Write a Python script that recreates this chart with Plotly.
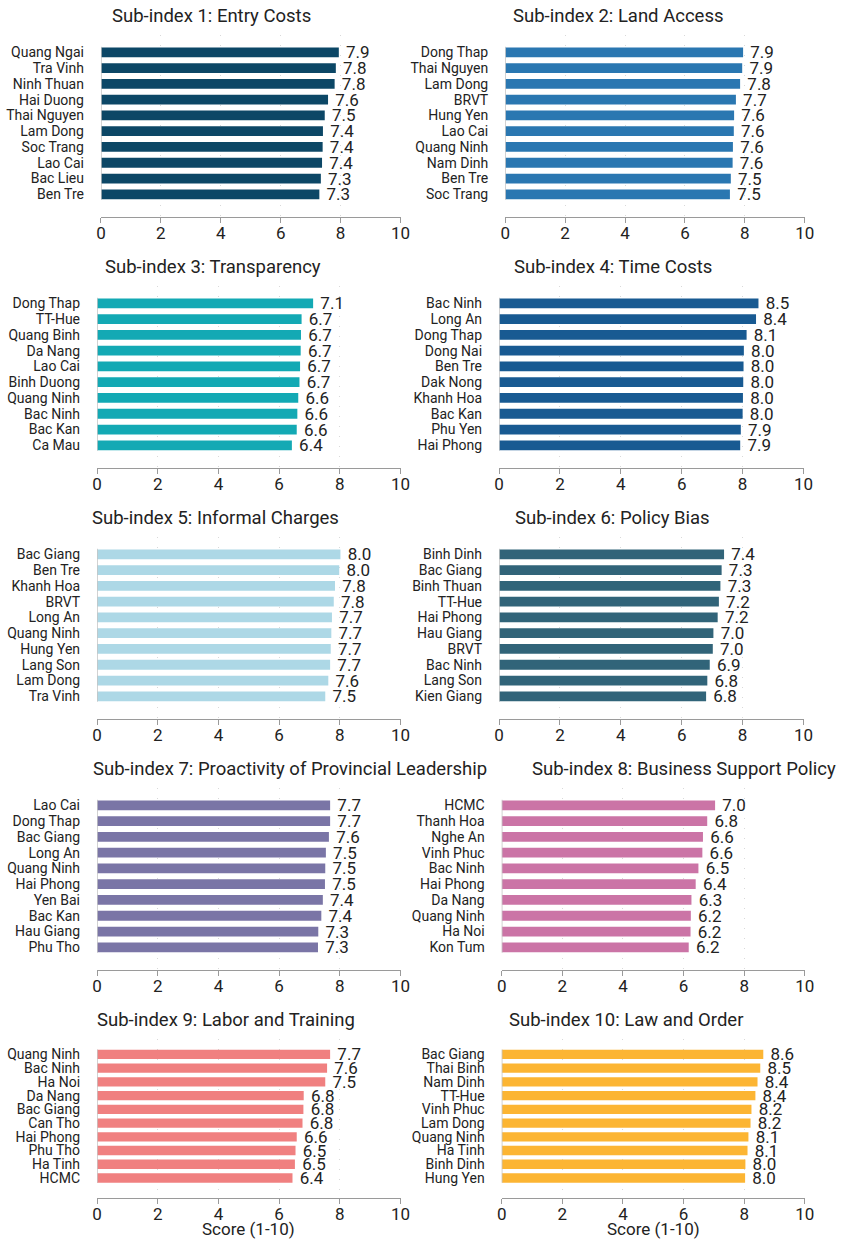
import plotly.graph_objects as go

# ---- PCI sub-index top-10 provinces ----
entry_costs_prov = ["Quang Ngai", "Tra Vinh", "Ninh Thuan", "Hai Duong", "Thai Nguyen",
                    "Lam Dong", "Soc Trang", "Lao Cai", "Bac Lieu", "Ben Tre"]
entry_costs_score = [7.94, 7.84, 7.80, 7.58, 7.47, 7.41, 7.40, 7.38, 7.34, 7.29]

land_access_prov = ["Dong Thap", "Thai Nguyen", "Lam Dong", "BRVT", "Hung Yen",
                    "Lao Cai", "Quang Ninh", "Nam Dinh", "Ben Tre", "Soc Trang"]
land_access_score = [7.94, 7.91, 7.84, 7.70, 7.64, 7.63, 7.60, 7.59, 7.53, 7.50]

transparency_prov = ["Dong Thap", "TT-Hue", "Quang Binh", "Da Nang", "Lao Cai",
                     "Binh Duong", "Quang Ninh", "Bac Ninh", "Bac Kan", "Ca Mau"]
transparency_score = [7.12, 6.74, 6.72, 6.71, 6.69, 6.67, 6.63, 6.60, 6.58, 6.42]

time_costs_prov = ["Bac Ninh", "Long An", "Dong Thap", "Dong Nai", "Ben Tre",
                   "Dak Nong", "Khanh Hoa", "Bac Kan", "Phu Yen", "Hai Phong"]
time_costs_score = [8.52, 8.44, 8.13, 8.04, 8.03, 8.02, 8.01, 8.00, 7.94, 7.92]

informal_prov = ["Bac Giang", "Ben Tre", "Khanh Hoa", "BRVT", "Long An",
                 "Quang Ninh", "Hung Yen", "Lang Son", "Lam Dong", "Tra Vinh"]
informal_score = [8.02, 7.98, 7.84, 7.80, 7.74, 7.72, 7.70, 7.68, 7.62, 7.52]

policy_bias_prov = ["Binh Dinh", "Bac Giang", "Binh Thuan", "TT-Hue", "Hai Phong",
                    "Hau Giang", "BRVT", "Bac Ninh", "Lang Son", "Kien Giang"]
policy_bias_score = [7.39, 7.31, 7.27, 7.22, 7.18, 7.04, 7.02, 6.92, 6.84, 6.80]

proactivity_prov = ["Lao Cai", "Dong Thap", "Bac Giang", "Long An", "Quang Ninh",
                    "Hai Phong", "Yen Bai", "Bac Kan", "Hau Giang", "Phu Tho"]
proactivity_score = [7.68, 7.68, 7.64, 7.54, 7.52, 7.51, 7.44, 7.39, 7.29, 7.28]

business_prov = ["HCMC", "Thanh Hoa", "Nghe An", "Vinh Phuc", "Bac Ninh",
                 "Hai Phong", "Da Nang", "Quang Ninh", "Ha Noi", "Kon Tum"]
business_score = [7.04, 6.78, 6.64, 6.62, 6.49, 6.40, 6.26, 6.24, 6.23, 6.17]

labor_prov = ["Quang Ninh", "Bac Ninh", "Ha Noi", "Da Nang", "Bac Giang",
              "Can Tho", "Hai Phong", "Phu Tho", "Ha Tinh", "HCMC"]
labor_score = [7.68, 7.58, 7.52, 6.81, 6.80, 6.77, 6.58, 6.54, 6.52, 6.44]

law_prov = ["Bac Giang", "Thai Binh", "Nam Dinh", "TT-Hue", "Vinh Phuc",
            "Lam Dong", "Quang Ninh", "Ha Tinh", "Binh Dinh", "Hung Yen"]
law_score = [8.63, 8.53, 8.44, 8.37, 8.24, 8.21, 8.14, 8.11, 8.04, 8.03]

titles = ["Sub-index 1: Entry Costs", "Sub-index 2: Land Access",
          "Sub-index 3: Transparency", "Sub-index 4: Time Costs",
          "Sub-index 5: Informal Charges", "Sub-index 6: Policy Bias",
          "Sub-index 7: Proactivity of Provincial Leadership",
          "Sub-index 8: Business Support Policy",
          "Sub-index 9: Labor and Training", "Sub-index 10: Law and Order"]
x_ticks = [0, 2, 4, 6, 8, 10]
x_title = "Score (1-10)"

series = [
    (entry_costs_prov, entry_costs_score),
    (land_access_prov, land_access_score),
    (transparency_prov, transparency_score),
    (time_costs_prov, time_costs_score),
    (informal_prov, informal_score),
    (policy_bias_prov, policy_bias_score),
    (proactivity_prov, proactivity_score),
    (business_prov, business_score),
    (labor_prov, labor_score),
    (law_prov, law_score),
]

colors = ["#0c4766", "#2a77b1", "#13a9b4", "#185a92", "#add8e6",
          "#316479", "#7a75a6", "#cb74a6", "#f08080", "#fcb533"]

# ---- page geometry (pixels) ----
W, H = 843, 1240
FONT = "Roboto"
TXT = "#222222"

x_spans = [(97.7, 402.7), (509.3, 814.3),
           (93.7, 402.7), (503.0, 813.0),
           (93.7, 402.7), (503.0, 813.0),
           (93.7, 402.7), (505.7, 814.3),
           (93.7, 402.7), (505.7, 814.3)]
row_spans = [(35.0, 216.7), (286.0, 467.7), (537.0, 718.7),
             (788.0, 969.7), (1039.3, 1197.5)]
title_pos = [(210, 16), (624, 16), (212, 267), (619, 267), (214, 518),
             (618, 518), (290, 769), (691, 769), (225, 1020), (632, 1020)]

fig = go.Figure()
layout = {}
annotations = []
shapes = []

for i, ((provs, scores), color) in enumerate(zip(series, colors)):
    n = i + 1
    suffix = "" if n == 1 else str(n)
    row = i // 2
    x0, x1 = x_spans[i]
    y0, y1 = row_spans[row]
    bar_w = 0.68 if row == 4 else 0.62

    fig.add_trace(go.Bar(
        x=scores, y=provs, orientation="h",
        marker=dict(color=color, line=dict(width=0)),
        width=bar_w,
        texttemplate="\u00a0%{x:.1f}", textposition="outside",
        textfont=dict(family=FONT, size=17, color=TXT),
        constraintext="none", cliponaxis=False,
        xaxis="x" + suffix, yaxis="y" + suffix,
        showlegend=False, hoverinfo="x+y",
    ))

    layout["xaxis" + suffix] = dict(
        domain=[x0 / W, x1 / W], anchor="y" + suffix,
        range=[0, 10], tickmode="array", tickvals=x_ticks,
        showline=True, linecolor="#9a9a9a", linewidth=1.2,
        ticks="outside", ticklen=5, tickcolor="#9a9a9a", tickwidth=1.2,
        ticklabelstandoff=-4,
        showgrid=True, gridcolor="#d9d9d9", gridwidth=1, griddash="1px,9px",
        zeroline=False,
        tickfont=dict(family=FONT, size=17, color=TXT),
    )
    layout["yaxis" + suffix] = dict(
        domain=[1 - y1 / H, 1 - y0 / H], anchor="x" + suffix,
        type="category", categoryorder="array", categoryarray=provs,
        tickmode="array", tickvals=provs, ticktext=provs,
        range=[10.42, -1.1],
        showgrid=False, zeroline=False, showline=False, ticks="",
        ticklabelstandoff=16,
        tickfont=dict(family=FONT, size=14, color=TXT),
    )

    # left spine, trimmed to the span of the bars
    shapes.append(dict(
        type="line", xref="x" + suffix, yref="y" + suffix,
        x0=0, x1=0, y0=-0.35, y1=len(provs) - 1 + 0.35,
        line=dict(color="#c4c4c4", width=1.5), layer="above",
    ))

    tx, ty = title_pos[i]
    annotations.append(dict(
        text=titles[i], xref="paper", yref="paper",
        x=tx / W, y=1 - ty / H, xanchor="center", yanchor="middle",
        showarrow=False, font=dict(family=FONT, size=18.5, color=TXT),
    ))

    if row == 4:
        annotations.append(dict(
            text=x_title, xref="paper", yref="paper",
            x=((x0 + x1) / 2) / W, y=1 - 1229 / H,
            xanchor="center", yanchor="middle", showarrow=False,
            font=dict(family=FONT, size=17, color=TXT),
        ))

fig.update_layout(
    width=W, height=H,
    margin=dict(l=0, r=0, t=0, b=0),
    paper_bgcolor="white", plot_bgcolor="white",
    font=dict(family=FONT, color=TXT),
    annotations=annotations, shapes=shapes,
    **layout,
)

fig.write_html("out.html")
